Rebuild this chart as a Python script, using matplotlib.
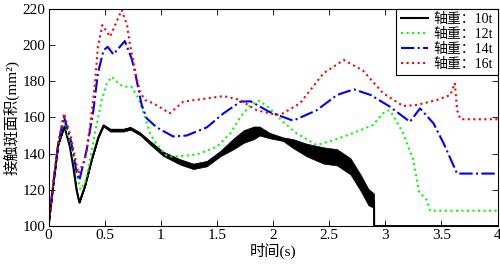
import matplotlib
matplotlib.use("Agg")
import matplotlib.pyplot as plt

plt.rcParams['font.family'] = ['Liberation Serif', 'Noto Sans CJK SC']

# axle load 10t (black, with ripple band)
t10 = [0, 0.043, 0.087, 0.141, 0.19, 0.22, 0.25, 0.275, 0.325, 0.385, 0.444, 0.49,
       0.55, 0.61, 0.67, 0.73, 0.815, 0.905, 1.02, 1.17, 1.29, 1.41, 1.53, 1.65,
       1.74, 1.83, 1.88, 1.97, 2.09, 2.18, 2.30, 2.45, 2.57, 2.69, 2.78, 2.85,
       2.90, 2.901, 4.0]
a10 = [100, 123, 145, 155, 144, 133, 120, 113, 122, 136.5, 149, 155.5,
       153, 153, 153, 154, 151, 146, 140, 135.5, 133, 134.5, 140, 145.5,
       149.5, 151.5, 152.5, 150, 148, 145.5, 142, 139, 138, 133, 124, 116,
       114, 100, 100]
r10 = [0, 0, 0, 0, 0, 0, 0, 0, 0, 0, 0.3, 0.6,
       0.8, 0.8, 0.8, 0.8, 0.8, 1, 1.2, 1.5, 1.5, 1.5, 1.5, 3,
       3.5, 3.5, 2.5, 1.5, 1, 2.5, 3.5, 4.5, 4.5, 4.5, 4.5, 4.5,
       4, 0, 0]

# axle load 12t (green)
t12 = [0, 0.043, 0.087, 0.138, 0.2, 0.25, 0.287, 0.33, 0.37, 0.414, 0.474, 0.52,
       0.563, 0.62, 0.667, 0.74, 0.80, 0.845, 0.905, 0.964, 1.05, 1.11, 1.23, 1.32,
       1.50, 1.62, 1.71, 1.80, 1.88, 1.97, 2.09, 2.21, 2.39, 2.54, 2.69, 2.78,
       2.89, 2.98, 3.03, 3.07, 3.16, 3.25, 3.30, 3.37, 3.40, 4.0]
a12 = [100, 123.6, 145.7, 158.5, 145, 128, 120, 125, 136.5, 151.4, 169.6, 178.8,
       182.5, 179, 177, 177, 170.6, 163, 151, 145, 139, 138.3, 139, 139.5,
       143.8, 151.2, 160.4, 166.9, 169.2, 165, 157.6, 151.2, 144.7, 147.5, 150.8, 153,
       155.8, 162.3, 164, 161.3, 151.2, 136.5, 119, 114.4, 108.5, 108.5]

# axle load 14t (blue)
t14 = [0, 0.043, 0.087, 0.138, 0.2, 0.25, 0.275, 0.34, 0.40, 0.44, 0.49, 0.527,
       0.578, 0.68, 0.74, 0.77, 0.80, 0.83, 0.875, 0.964, 1.11, 1.23, 1.41, 1.56,
       1.71, 1.80, 1.97, 2.18, 2.39, 2.57, 2.72, 2.87, 3.04, 3.22, 3.31, 3.43,
       3.52, 3.64, 4.0]
a14 = [100, 123.6, 145.7, 160.4, 147, 130, 125.4, 142, 164, 184.4, 197, 199,
       194.8, 202.2, 192.6, 185.3, 176, 166.9, 159.5, 154.5, 149.5, 150, 154.5, 162.3,
       168.7, 168.9, 163, 158.2, 164, 172.4, 175.5, 172.4, 166, 157.6, 165, 156.7,
       145.7, 129, 129]

# axle load 16t (red)
t16 = [0, 0.043, 0.087, 0.138, 0.2, 0.266, 0.325, 0.37, 0.414, 0.44, 0.48, 0.548,
       0.652, 0.70, 0.726, 0.756, 0.786, 0.815, 0.86, 0.934, 1.01, 1.08, 1.20, 1.41,
       1.56, 1.71, 1.80, 1.855, 2.03, 2.09, 2.24, 2.45, 2.63, 2.80, 2.98, 3.16,
       3.28, 3.46, 3.58, 3.62, 3.64, 3.67, 4.0]
a16 = [100, 123.6, 146, 162.3, 149, 129, 136.5, 154.9, 178.8, 199, 211, 204.6,
       219.3, 211, 200, 190.8, 181.6, 174.2, 169.6, 167.8, 165, 162.3, 168.7, 170.5,
       171.8, 169.6, 166, 164, 161.4, 162.3, 167.8, 184.4, 191.7, 186, 173.4, 166.3,
       166.9, 169.6, 172.4, 179, 164, 159, 159]

labels = ['轴重：10t', '轴重：12t', '轴重：14t', '轴重：16t']

fig = plt.figure(figsize=(5.0, 2.66), dpi=100)
ax = fig.add_axes([0.097, 0.150, 0.898, 0.817])

lo10 = [a - r for a, r in zip(a10, r10)]
hi10 = [a + r for a, r in zip(a10, r10)]
ax.fill_between(t10, lo10, hi10, color='black', linewidth=0.5)
ax.plot(t10, a10, color='black', lw=1.5, label=labels[0])
ax.plot(t12, a12, color='#00ff00', lw=1.5, ls=':', label=labels[1])
ax.plot(t14, a14, color='#0000ff', lw=1.5, ls='-.', label=labels[2])
ax.plot(t16, a16, color='#ff0000', lw=1.5, ls=':', label=labels[3])

ax.set_xlim(0, 4)
ax.set_ylim(100, 220)
ax.set_xticks([0, 0.5, 1, 1.5, 2, 2.5, 3, 3.5, 4])
ax.set_xticklabels(['0', '0.5', '1', '1.5', '2', '2.5', '3', '3.5', '4'])
ax.set_yticks([100, 120, 140, 160, 180, 200, 220])
ax.tick_params(direction='in', top=True, right=True, length=4, width=0.6,
               labelsize=11, pad=2)
for s in ax.spines.values():
    s.set_linewidth(0.8)

ax.set_xlabel('时间(s)', fontsize=11, labelpad=1)
ax.set_ylabel('接触斑面积(mm²)', fontsize=11, labelpad=2)

leg = ax.legend(loc='upper right', borderaxespad=0, fontsize=10, fancybox=False,
                handlelength=2.0, handletextpad=0.4, borderpad=0.3,
                labelspacing=0.15, framealpha=1)
leg.get_frame().set_edgecolor('black')
leg.get_frame().set_linewidth(0.8)

fig.savefig('out.png', dpi=100)
